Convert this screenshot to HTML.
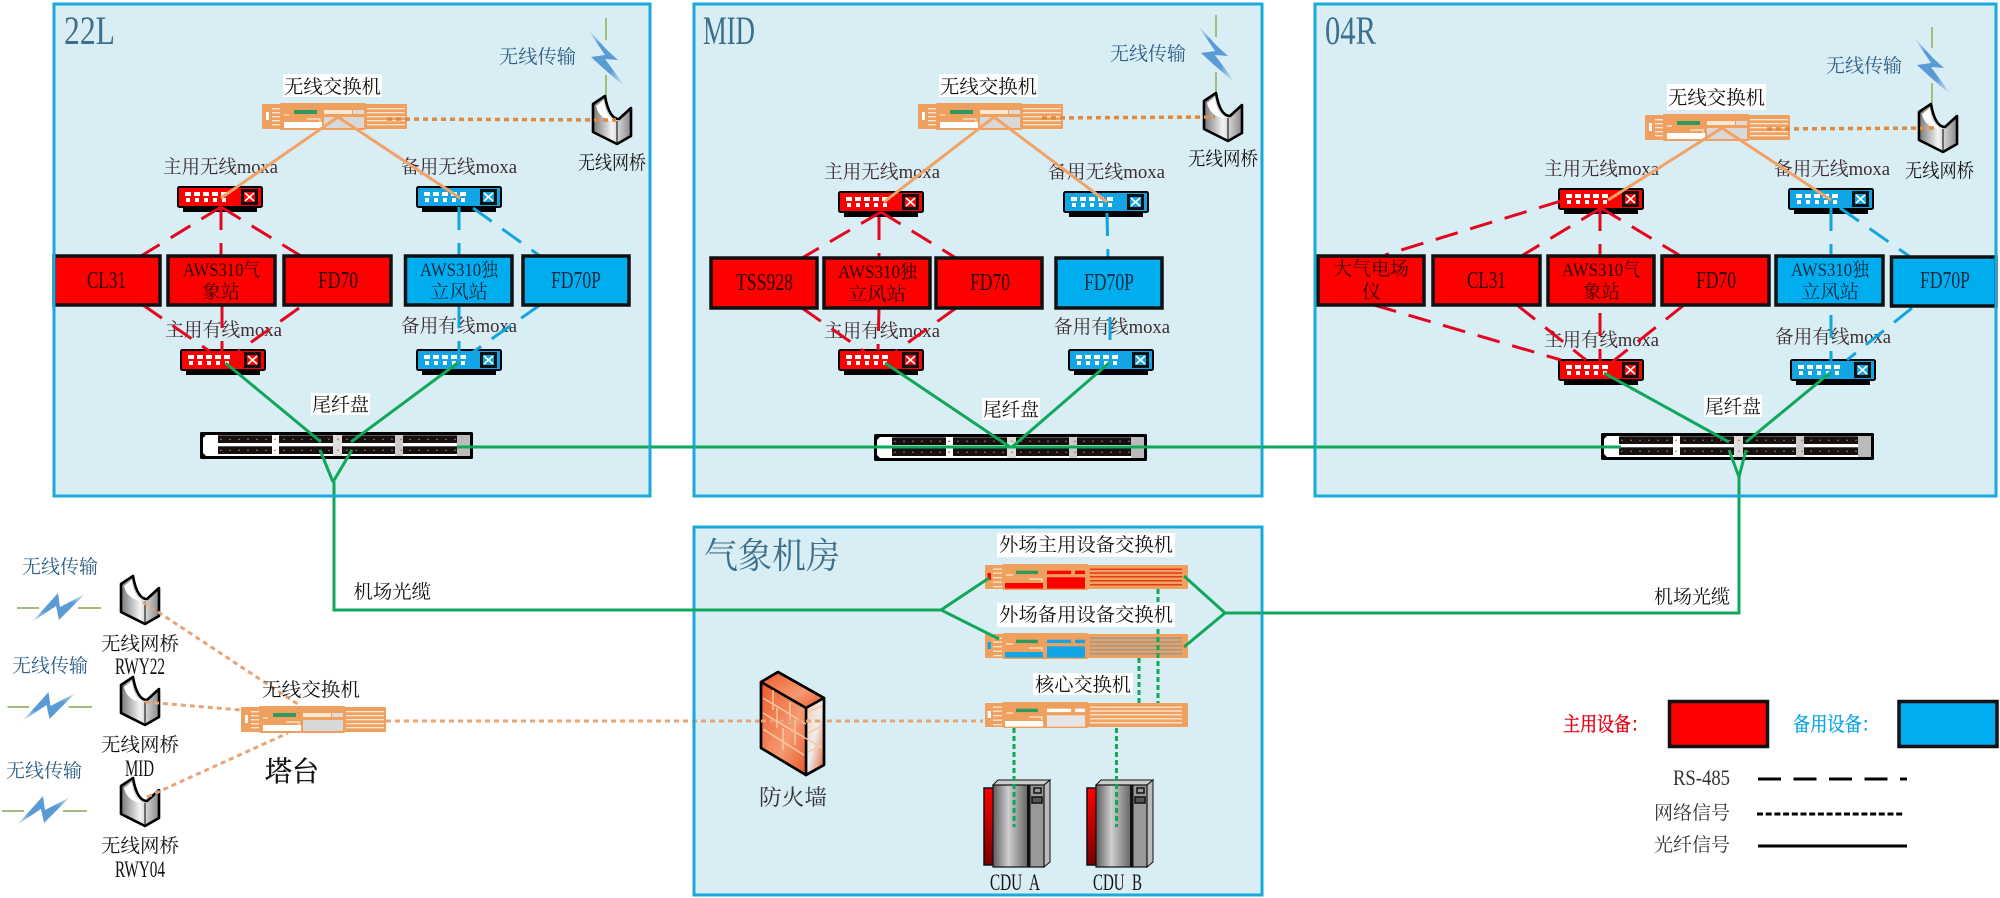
<!DOCTYPE html>
<html lang="zh">
<head>
<meta charset="utf-8">
<title>网络拓扑图</title>
<style>
html,body{margin:0;padding:0;background:#fff;width:2000px;height:898px;overflow:hidden}
svg{display:block}
text{font-family:"Liberation Serif","Noto Serif CJK SC",serif;font-size:19px;fill:#222}
.title{font-size:40px;fill:#3d6f8c}
.zh{font-size:36px;fill:#3d6f8c}
.blue{fill:#2f5f86}
.m{fill:#3b2b2f}
.k{fill:#111}
.lt{font-size:24px}
.lb{font-size:23px}
.tr{fill:#2a0000}
.tb{fill:#0c2c44}
.p{fill:none;stroke:#1aa9dc;stroke-width:3}
.bx{stroke:#111;stroke-width:3.5}
.r{fill:#f00}
.c{fill:#00aeef}
.dr{stroke:#e3061f;stroke-width:3;stroke-dasharray:23 13;fill:none}
.db{stroke:#12a5dc;stroke-width:3;stroke-dasharray:23 13;fill:none}
.g{stroke:#0fa85a;stroke-width:3;fill:none}
.gd{stroke:#0fa85a;stroke-width:3;stroke-dasharray:5 3;fill:none}
.o{stroke:#f2a264;stroke-width:3;fill:none}
.od{stroke:#e08a3c;stroke-width:3.5;stroke-dasharray:5 4;fill:none}
.ol{stroke:#e6a576;stroke-width:3;stroke-dasharray:5 4;fill:none}
.wl{stroke:#a3bd7a;stroke-width:2;fill:none}
</style>
</head>
<body>
<svg width="2000" height="898" viewBox="0 0 2000 898" xmlns="http://www.w3.org/2000/svg">
<defs>
<linearGradient id="gb" x1="0" y1="0" x2="1" y2="1"><stop offset="0" stop-color="#fff"/><stop offset=".3" stop-color="#5b9bd5"/><stop offset=".65" stop-color="#5b9bd5"/><stop offset="1" stop-color="#fff"/></linearGradient>
<linearGradient id="gb2" x1="0" y1="1" x2="1" y2="0"><stop offset="0" stop-color="#e8f2fa"/><stop offset=".3" stop-color="#5b9bd5"/><stop offset=".7" stop-color="#5b9bd5"/><stop offset="1" stop-color="#e8f2fa"/></linearGradient>
<linearGradient id="gg" x1="0" y1="0" x2="1" y2="0"><stop offset="0" stop-color="#777"/><stop offset=".5" stop-color="#f4f4f4"/><stop offset="1" stop-color="#888"/></linearGradient>
<linearGradient id="gs" x1="0" y1="0" x2="1" y2="0"><stop offset="0" stop-color="#5c5c5c"/><stop offset=".45" stop-color="#cfcfcf"/><stop offset="1" stop-color="#6a6a6a"/></linearGradient>
<linearGradient id="gr" x1="0" y1="0" x2="0" y2="1"><stop offset="0" stop-color="#f00"/><stop offset="1" stop-color="#700"/></linearGradient>
<linearGradient id="gf" x1="0" y1="0" x2="1" y2="1"><stop offset="0" stop-color="#ee5a2a"/><stop offset=".6" stop-color="#f59a72"/><stop offset="1" stop-color="#e8582a"/></linearGradient>
<linearGradient id="gf2" x1="0" y1="0" x2="1" y2="1"><stop offset="0" stop-color="#f6c8a8"/><stop offset=".5" stop-color="#eee"/><stop offset="1" stop-color="#e2602e"/></linearGradient>

<g id="moxa">
<rect x="6" y="19" width="74" height="7" fill="#000"/>
<rect x="1" y="1" width="84" height="20" rx="1.5" fill="currentColor" stroke="#000" stroke-width="2"/>
<rect x="64" y="3" width="17" height="16" fill="#111"/>
<rect x="67" y="6" width="11" height="10" fill="currentColor"/>
<path d="M68 7L77 15M77 7L68 15" stroke="#fff" stroke-width="1.6"/>
<g fill="#fff">
<rect x="8" y="6" width="6" height="4"/><rect x="17" y="6" width="6" height="4"/><rect x="26" y="6" width="6" height="4"/><rect x="35" y="6" width="6" height="4"/><rect x="44" y="6" width="6" height="4"/>
<rect x="9" y="12" width="4" height="4"/><rect x="18" y="12" width="4" height="4"/><rect x="27" y="12" width="4" height="4"/><rect x="36" y="12" width="4" height="4"/><rect x="45" y="12" width="4" height="4"/>
</g>
</g>

<g id="sws">
<rect x="0" y="0" width="145" height="25" rx="1" fill="#f0a05e"/>
<rect x="18" y="-1" width="86" height="27" rx="1" fill="#f0a05e"/>
<rect x="32" y="6" width="23" height="4" fill="#2e9a5e"/>
<g fill="#fbe6d3">
<rect x="10" y="4" width="8" height="1.4"/><rect x="10" y="8" width="8" height="1.4"/><rect x="10" y="12" width="8" height="1.4"/><rect x="10" y="16" width="8" height="1.4"/><rect x="10" y="20" width="8" height="1.4"/>
<rect x="105" y="4" width="38" height="1.3"/><rect x="105" y="8" width="38" height="1.3"/><rect x="105" y="12" width="38" height="1.3"/><rect x="105" y="16" width="38" height="1.3"/><rect x="105" y="20" width="38" height="1.3"/>
<rect x="4" y="8" width="3" height="8" fill="#fff"/>
<rect x="62" y="6" width="28" height="4"/><rect x="91" y="6" width="11" height="4" fill="#ddd"/>
<rect x="22" y="18" width="38" height="6" fill="#fff"/>
</g>
<rect x="62" y="13" width="40" height="11" fill="#d8d8d8"/>
<path d="M22 11H27M45 15H58V18" stroke="#fbe6d3" stroke-width="1.2" fill="none"/>
</g>

<g id="swl">
<rect x="0" y="0" width="203" height="24" rx="1" fill="#f0a05e"/>
<rect x="18" y="-1" width="85" height="26" rx="1" fill="#f0a05e"/>
<rect x="31" y="5.7" width="22" height="3.4" fill="#2e9a5e"/>
<g style="fill:var(--s)">
<rect x="105" y="3.5" width="92" height="1.5"/><rect x="105" y="7.3" width="92" height="1.5"/><rect x="105" y="11" width="92" height="1.5"/><rect x="105" y="15" width="92" height="1.5"/><rect x="105" y="19" width="92" height="1.5"/>
</g>
<g fill="#fbe6d3">
<rect x="8" y="3.5" width="9" height="1.3"/><rect x="8" y="7.5" width="9" height="1.3"/><rect x="8" y="12" width="9" height="1.3"/><rect x="8" y="16.5" width="9" height="1.3"/><rect x="8" y="21" width="9" height="1.3"/>
</g>
<g style="fill:var(--b)">
<rect x="2.5" y="8" width="3.5" height="7"/>
<rect x="62" y="5.7" width="24" height="3.4"/><rect x="90" y="5.7" width="10" height="3.4"/>
<rect x="20" y="18" width="38" height="5.5"/>
</g>
<rect x="62" y="12.3" width="38" height="11.3" style="fill:var(--b2)"/>
<path d="M21 10H28M44 14H57V17" stroke="#fbe6d3" stroke-width="1.2" fill="none"/>
</g>

<g id="patch">
<rect x="0" y="0" width="273" height="27" rx="1.5" fill="#000"/>
<path d="M6 3H267L270 6V21L267 24H6L3 21V6Z" fill="#fff"/>
<rect x="133" y="3" width="9" height="21" fill="#ddd"/>
<rect x="195" y="3" width="8" height="21" fill="#ccc"/>
<rect x="257" y="3" width="13" height="21" fill="#bbb"/>
<g fill="#171010">
<rect x="18" y="3.3" width="54" height="7.7"/><rect x="79" y="3.3" width="54" height="7.7"/><rect x="142" y="3.3" width="53" height="7.7"/><rect x="203" y="3.3" width="54" height="7.7"/>
<rect x="18" y="14.3" width="54" height="7.7"/><rect x="79" y="14.3" width="54" height="7.7"/><rect x="142" y="14.3" width="53" height="7.7"/><rect x="203" y="14.3" width="54" height="7.7"/>
</g>
<path d="M20 7.2H257M20 18.2H257" stroke="#a8744a" stroke-width="1" stroke-dasharray="2 7" fill="none"/>
</g>

<g id="bridge">
<path d="M13 1L1 9V37L25 49L39 41V13L27 24Q17 24 13 1Z" fill="url(#gg)" stroke="#000" stroke-width="2.6" stroke-linejoin="round"/>
<path d="M4 11Q7 24 21 26Q13 19 12 5Z" fill="#fff"/>
<path d="M25 26V48" stroke="#222" stroke-width="1.2"/>
</g>

<polygon id="boltv" points="0,0 21,23 32,33 19,32 41,62 17,41 5,30 19,28" fill="url(#gb)"/>
<polygon id="bolth" points="0,29 26,0 28,14 53,1 27,27 24,13" fill="url(#gb2)"/>

<g id="server">
<rect x="1" y="8" width="10" height="77" fill="url(#gr)" stroke="#111" stroke-width="1.5"/>
<path d="M10 5L15 0H67L61 5Z" fill="#ccc" stroke="#111" stroke-width="1"/>
<path d="M61 5L67 0V82L61 87Z" fill="#bbb" stroke="#111" stroke-width="1"/>
<rect x="10" y="5" width="34" height="82" fill="url(#gs)"/>
<rect x="44" y="5" width="3.5" height="82" fill="#111"/>
<rect x="47.5" y="5" width="13.5" height="82" fill="#999"/>
<rect x="51" y="8" width="7" height="5" fill="none" stroke="#111" stroke-width="1.5"/>
<rect x="49" y="17" width="10" height="6" fill="#555" stroke="#111" stroke-width="1.5"/>
<rect x="10" y="5" width="51" height="82" fill="none" stroke="#111" stroke-width="1.2"/>
</g>
</defs>

<rect width="2000" height="898" fill="#fff"/>

<!-- panels -->
<rect x="54" y="4" width="596" height="492" fill="#d9edf4"/>
<rect x="694" y="4" width="568" height="492" fill="#d9edf4"/>
<rect x="1315" y="4" width="681" height="492" fill="#d9edf4"/>
<rect x="694" y="527" width="568" height="368" fill="#d9edf4"/>

<!-- titles -->
<text class="title" x="64" y="44" textLength="51" lengthAdjust="spacingAndGlyphs">22L</text>
<text class="title" x="703" y="44" textLength="52" lengthAdjust="spacingAndGlyphs">MID</text>
<text class="title" x="1325" y="44" textLength="51" lengthAdjust="spacingAndGlyphs">04R</text>
<text class="zh" x="704" y="568" textLength="136" lengthAdjust="spacingAndGlyphs">气象机房</text>

<!-- label white backgrounds -->
<rect x="283" y="74" width="99" height="23" fill="#fff"/>
<rect x="939" y="74" width="99" height="23" fill="#fff"/>
<rect x="1667" y="84" width="99" height="26" fill="#fff"/>
<rect x="311" y="393" width="59" height="22" fill="#fff"/>
<rect x="982" y="398" width="58" height="22" fill="#fff"/>
<rect x="1704" y="395" width="58" height="22" fill="#fff"/>

<text class="k" x="284" y="93" textLength="97" lengthAdjust="spacingAndGlyphs">无线交换机</text>
<text class="k" x="940" y="93" textLength="97" lengthAdjust="spacingAndGlyphs">无线交换机</text>
<text class="k" x="1668" y="104" textLength="97" lengthAdjust="spacingAndGlyphs">无线交换机</text>
<text class="k" x="312" y="411" textLength="57" lengthAdjust="spacingAndGlyphs">尾纤盘</text>
<text class="k" x="983" y="416" textLength="56" lengthAdjust="spacingAndGlyphs">尾纤盘</text>
<text class="k" x="1705" y="413" textLength="56" lengthAdjust="spacingAndGlyphs">尾纤盘</text>

<!-- wireless labels -->
<text class="blue" x="499" y="63" textLength="77" lengthAdjust="spacingAndGlyphs">无线传输</text>
<text class="blue" x="1110" y="60" textLength="76" lengthAdjust="spacingAndGlyphs">无线传输</text>
<text class="blue" x="1826" y="72" textLength="76" lengthAdjust="spacingAndGlyphs">无线传输</text>
<text class="blue" x="22" y="573" textLength="76" lengthAdjust="spacingAndGlyphs">无线传输</text>
<text class="blue" x="12" y="672" textLength="76" lengthAdjust="spacingAndGlyphs">无线传输</text>
<text class="blue" x="6" y="777" textLength="76" lengthAdjust="spacingAndGlyphs">无线传输</text>

<text class="k" x="578" y="169" textLength="68" lengthAdjust="spacingAndGlyphs">无线网桥</text>
<text class="k" x="1188" y="165" textLength="70" lengthAdjust="spacingAndGlyphs">无线网桥</text>
<text class="k" x="1905" y="177" textLength="69" lengthAdjust="spacingAndGlyphs">无线网桥</text>

<!-- moxa labels -->
<text class="m" x="163" y="173" textLength="115" lengthAdjust="spacingAndGlyphs">主用无线moxa</text>
<text class="m" x="401" y="173" textLength="116" lengthAdjust="spacingAndGlyphs">备用无线moxa</text>
<text class="m" x="165" y="336" textLength="117" lengthAdjust="spacingAndGlyphs">主用有线moxa</text>
<text class="m" x="401" y="332" textLength="116" lengthAdjust="spacingAndGlyphs">备用有线moxa</text>
<text class="m" x="824" y="178" textLength="116" lengthAdjust="spacingAndGlyphs">主用无线moxa</text>
<text class="m" x="1048" y="178" textLength="117" lengthAdjust="spacingAndGlyphs">备用无线moxa</text>
<text class="m" x="824" y="337" textLength="116" lengthAdjust="spacingAndGlyphs">主用有线moxa</text>
<text class="m" x="1054" y="333" textLength="116" lengthAdjust="spacingAndGlyphs">备用有线moxa</text>
<text class="m" x="1544" y="175" textLength="115" lengthAdjust="spacingAndGlyphs">主用无线moxa</text>
<text class="m" x="1774" y="175" textLength="116" lengthAdjust="spacingAndGlyphs">备用无线moxa</text>
<text class="m" x="1544" y="346" textLength="115" lengthAdjust="spacingAndGlyphs">主用有线moxa</text>
<text class="m" x="1775" y="343" textLength="116" lengthAdjust="spacingAndGlyphs">备用有线moxa</text>

<!-- wireless antenna lines + bolts -->
<path class="wl" d="M606 18V40M606 75V97M1216 15V37M1216 72V92M1932 27V48M1932 83V103"/>
<use href="#boltv" x="586" y="27"/>
<use href="#boltv" x="1196" y="23"/>
<use href="#boltv" x="1912" y="35"/>
<path class="wl" d="M17 608H39M78 608H101M7.500 707H29M68.500 707H92M2 811H24M63 811H87"/>
<use href="#bolth" x="32" y="593"/>
<use href="#bolth" x="22.500" y="692"/>
<use href="#bolth" x="17" y="796"/>

<!-- icons -->
<use href="#bridge" x="592" y="95"/>
<use href="#bridge" x="1203" y="92"/>
<use href="#bridge" x="1918" y="103"/>
<use href="#bridge" x="120" y="575"/>
<use href="#bridge" x="120" y="676"/>
<use href="#bridge" x="120" y="777"/>

<use href="#sws" x="262" y="104"/>
<use href="#sws" x="918" y="104"/>
<use href="#sws" x="1645" y="115"/>
<use href="#sws" x="241" y="707"/>

<use href="#swl" x="985" y="565" style="--s:#e23b1a;--b:#f00;--b2:#f00"/>
<use href="#swl" x="985" y="634" style="--s:#8f9a9a;--b:#12a5e6;--b2:#12a5e6"/>
<use href="#swl" x="985" y="703" style="--s:#fbe0c8;--b:#fff;--b2:#e6e6e6"/>

<use href="#moxa" x="177" y="186" style="color:#f00"/>
<use href="#moxa" x="416" y="186" style="color:#12a5e6"/>
<use href="#moxa" x="180" y="349" style="color:#f00"/>
<use href="#moxa" x="416" y="349" style="color:#12a5e6"/>
<use href="#moxa" x="838" y="191" style="color:#f00"/>
<use href="#moxa" x="1063" y="191" style="color:#12a5e6"/>
<use href="#moxa" x="838" y="349" style="color:#f00"/>
<use href="#moxa" x="1068" y="349" style="color:#12a5e6"/>
<use href="#moxa" x="1558" y="188" style="color:#f00"/>
<use href="#moxa" x="1788" y="188" style="color:#12a5e6"/>
<use href="#moxa" x="1558" y="359" style="color:#f00"/>
<use href="#moxa" x="1790" y="359" style="color:#12a5e6"/>

<use href="#patch" x="200" y="432"/>
<use href="#patch" x="874" y="434"/>
<use href="#patch" x="1601" y="433"/>

<!-- orange links -->
<path class="o" d="M338 117L221 198M338 117L460 198M994 117L884 202M994 117L1107 202M1722 128L1608 200M1722 128L1831 200"/>
<path class="od" d="M387 119L616 120M1042 118L1215 117M1767 129L1938 128"/>
<path class="ol" d="M143 602L299 705M145 702L241 710M147 797L288 733M386 721H983"/>

<!-- firewall -->
<g stroke="#000" stroke-width="2.5" stroke-linejoin="round">
<path d="M761 682L778 672L824 698L806 708Z" fill="url(#gf)"/>
<path d="M806 708L824 698V765L806 775Z" fill="url(#gf2)"/>
<path d="M761 682L806 708V775L761 748Z" fill="url(#gf)"/>
<path d="M761 682L778 672L824 698V765L806 775L761 748Z" fill="none"/>
</g>
<path d="M763 698L806 724M763 713L822 748M763 729L804 755M773 690V710M790 702V724M777 708V728M795 720V745M783 728V750M808 712L822 706M808 733L822 726M808 752L822 745" stroke="#f8c8a0" stroke-width="1.5" fill="none"/>
<line class="ol" x1="761" y1="721" x2="824" y2="721"/>
<text style="fill:#333;font-size:22px" x="759" y="805" textLength="68" lengthAdjust="spacingAndGlyphs">防火墙</text>

<!-- servers -->
<use href="#server" x="983" y="780"/>
<use href="#server" x="1086" y="780"/>
<text class="k lb" x="990" y="890" textLength="50" lengthAdjust="spacingAndGlyphs" xml:space="preserve">CDU  A</text>
<text class="k lb" x="1093" y="890" textLength="49" lengthAdjust="spacingAndGlyphs" xml:space="preserve">CDU  B</text>

<!-- green dashed inside machine room -->
<path class="gd" d="M1158 589V703M1139 658V703M1014 728V827M1116.500 728V827"/>

<!-- machine room label backgrounds -->
<rect x="997" y="533" width="178" height="24" fill="#fff"/>
<rect x="997" y="603" width="178" height="24" fill="#fff"/>
<rect x="1033" y="673" width="100" height="22" fill="#fff"/>
<text class="k" x="999" y="551" textLength="174" lengthAdjust="spacingAndGlyphs">外场主用设备交换机</text>
<text class="k" x="999" y="621" textLength="174" lengthAdjust="spacingAndGlyphs">外场备用设备交换机</text>
<text class="k" x="1035" y="691" textLength="96" lengthAdjust="spacingAndGlyphs">核心交换机</text>

<!-- red / blue dashed (RS-485) -->
<path class="dr" d="M221 207L141 256M221 207V256M221 207L301 256M143 305L212 353M222 305V353M299 308L236 353"/>
<path class="db" d="M459 207V256M473 208L540 256M459 305V365M540 305L473 352"/>
<path class="dr" d="M881 212L802 258M879 217V258M881 212L956 258M802 308L865 352M879 308L878 350M956 308L895 352"/>
<path class="db" d="M1107 213L1108 258M1110 317V340"/>
<path class="dr" d="M1561 201L1385 255M1601 208L1523 255M1600 208V255M1601 208L1679 255M1374 305L1561 360M1517 305L1586 360M1600 313V362M1684 305L1612 362"/>
<path class="db" d="M1831 208V255M1840 208L1909 256M1831 315V362M1912 308L1847 360"/>

<!-- green fibre -->
<path class="g" d="M225.500 363L321 442M320 450L333 482M457.500 363L351 442M352 450L333 482M334 482V610H941M457 447H1621M885 363L1010 447M1109 363L1012 447M989 578L941 610L999 639M1184 576L1225 613L1184 647M1225 613H1739V477M1604 373L1729 442M1831 372L1746 442M1729 450L1739 477M1746 450L1739 477"/>

<!-- device boxes -->
<g class="bx">
<rect class="r" x="54" y="256" width="106" height="49"/>
<rect class="r" x="168" y="256" width="107" height="49"/>
<rect class="r" x="284" y="256" width="107" height="49"/>
<rect class="c" x="405.500" y="256" width="106.500" height="49"/>
<rect class="c" x="523" y="256" width="106" height="49"/>
<rect class="r" x="711" y="258" width="106" height="50"/>
<rect class="r" x="824" y="258" width="106" height="50"/>
<rect class="r" x="936" y="258" width="106" height="50"/>
<rect class="c" x="1056" y="258" width="106" height="50"/>
<rect class="r" x="1318" y="256" width="106" height="49"/>
<rect class="r" x="1433" y="256" width="107" height="49"/>
<rect class="r" x="1548" y="256" width="106" height="49"/>
<rect class="r" x="1662" y="256" width="107" height="49"/>
<rect class="c" x="1776" y="256" width="107" height="49"/>
<rect class="c" x="1891.500" y="257" width="104.500" height="49"/>
</g>

<text class="tr lt" x="87" y="288" textLength="39" lengthAdjust="spacingAndGlyphs">CL31</text>
<text class="tr" x="183" y="276" textLength="77" lengthAdjust="spacingAndGlyphs">AWS310气</text>
<text class="tr" x="202" y="298" textLength="38" lengthAdjust="spacingAndGlyphs">象站</text>
<text class="tr lt" x="318" y="288" textLength="40" lengthAdjust="spacingAndGlyphs">FD70</text>
<text class="tb" x="420" y="276" textLength="78" lengthAdjust="spacingAndGlyphs">AWS310独</text>
<text class="tb" x="430" y="298" textLength="58" lengthAdjust="spacingAndGlyphs">立风站</text>
<text class="tb lt" x="551" y="288" textLength="50" lengthAdjust="spacingAndGlyphs">FD70P</text>

<text class="tr lt" x="736" y="290" textLength="57" lengthAdjust="spacingAndGlyphs">TSS928</text>
<text class="tr" x="838" y="278" textLength="79" lengthAdjust="spacingAndGlyphs">AWS310独</text>
<text class="tr" x="848" y="300" textLength="58" lengthAdjust="spacingAndGlyphs">立风站</text>
<text class="tr lt" x="970" y="290" textLength="40" lengthAdjust="spacingAndGlyphs">FD70</text>
<text class="tb lt" x="1084" y="290" textLength="50" lengthAdjust="spacingAndGlyphs">FD70P</text>

<text class="tr" x="1333" y="275" textLength="76" lengthAdjust="spacingAndGlyphs">大气电场</text>
<text class="tr" x="1362" y="298" textLength="19" lengthAdjust="spacingAndGlyphs">仪</text>
<text class="tr lt" x="1467" y="288" textLength="39" lengthAdjust="spacingAndGlyphs">CL31</text>
<text class="tr" x="1562" y="276" textLength="78" lengthAdjust="spacingAndGlyphs">AWS310气</text>
<text class="tr" x="1583" y="298" textLength="37" lengthAdjust="spacingAndGlyphs">象站</text>
<text class="tr lt" x="1696" y="288" textLength="40" lengthAdjust="spacingAndGlyphs">FD70</text>
<text class="tb" x="1791" y="276" textLength="78" lengthAdjust="spacingAndGlyphs">AWS310独</text>
<text class="tb" x="1801" y="298" textLength="58" lengthAdjust="spacingAndGlyphs">立风站</text>
<text class="tb lt" x="1920" y="288" textLength="50" lengthAdjust="spacingAndGlyphs">FD70P</text>

<!-- panel borders -->
<rect class="p" x="54" y="4" width="596" height="492"/>
<rect class="p" x="694" y="4" width="568" height="492"/>
<rect class="p" x="1315" y="4" width="681" height="492"/>
<rect class="p" x="694" y="527" width="568" height="368"/>
<path class="g" d="M650 447H694M1262 447H1315M1262 613H1265M691 610H697"/>

<!-- left section labels -->
<text class="k" x="101" y="650" textLength="78" lengthAdjust="spacingAndGlyphs">无线网桥</text>
<text class="k lb" x="115" y="674" textLength="50" lengthAdjust="spacingAndGlyphs">RWY22</text>
<text class="k" x="101" y="751" textLength="78" lengthAdjust="spacingAndGlyphs">无线网桥</text>
<text class="k lb" x="125" y="776" textLength="29" lengthAdjust="spacingAndGlyphs">MID</text>
<text class="k" x="101" y="852" textLength="78" lengthAdjust="spacingAndGlyphs">无线网桥</text>
<text class="k lb" x="115" y="877" textLength="50" lengthAdjust="spacingAndGlyphs">RWY04</text>
<text class="k" x="262" y="696" textLength="98" lengthAdjust="spacingAndGlyphs">无线交换机</text>
<text class="k" style="font-size:28px;stroke:#111;stroke-width:.4" x="265" y="781" textLength="54" lengthAdjust="spacingAndGlyphs">塔台</text>
<text class="k" x="353.500" y="598" textLength="77.500" lengthAdjust="spacingAndGlyphs">机场光缆</text>
<text class="k" x="1654" y="603" textLength="76" lengthAdjust="spacingAndGlyphs">机场光缆</text>

<!-- legend -->
<text style="fill:#e60012;font-size:20px;stroke:#e60012;stroke-width:.4" x="1563" y="731" textLength="85" lengthAdjust="spacingAndGlyphs">主用设备：</text>
<rect class="bx r" x="1669.500" y="701.500" width="98" height="45"/>
<text style="fill:#12a5e6;font-size:20px;stroke:#12a5e6;stroke-width:.4" x="1793" y="731" textLength="86" lengthAdjust="spacingAndGlyphs">备用设备：</text>
<rect class="bx c" x="1899" y="701.500" width="98" height="45"/>
<text style="fill:#333;font-size:22px" x="1673" y="785" textLength="57" lengthAdjust="spacingAndGlyphs">RS-485</text>
<text style="fill:#333" x="1654" y="819" textLength="76" lengthAdjust="spacingAndGlyphs">网络信号</text>
<text style="fill:#333" x="1654" y="851" textLength="76" lengthAdjust="spacingAndGlyphs">光纤信号</text>
<line x1="1758" y1="779" x2="1907" y2="779" stroke="#000" stroke-width="3" stroke-dasharray="23 12.500"/>
<line x1="1757" y1="814" x2="1904" y2="814" stroke="#000" stroke-width="3" stroke-dasharray="6 2.700"/>
<line x1="1758" y1="846" x2="1907" y2="846" stroke="#000" stroke-width="3"/>
</svg>
</body>
</html>
